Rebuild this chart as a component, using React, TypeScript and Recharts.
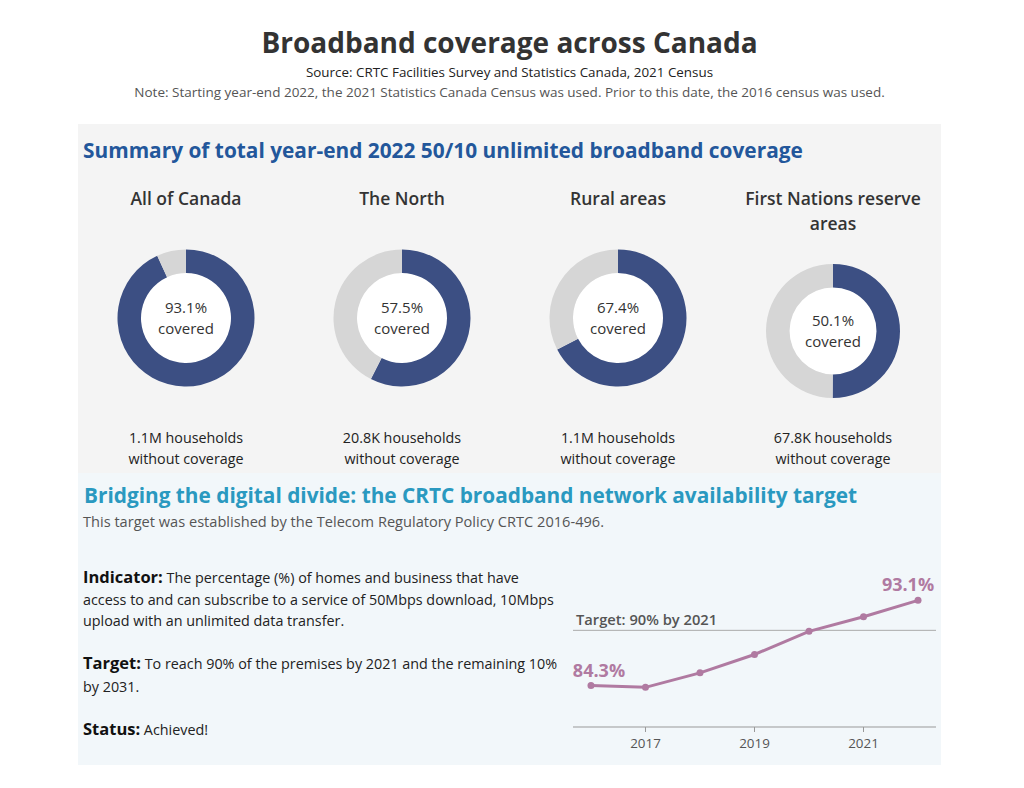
import React from "react";
import { PieChart, Pie, Cell, LineChart, Line, XAxis, YAxis, ReferenceLine, LabelList } from "recharts";

// summary donuts
const regions = ["All of Canada", "The North", "Rural areas", "First Nations reserve areas"];
const coveredPct = [93.1, 57.5, 67.4, 50.1];
const householdsWithout = ["1.1M", "20.8K", "1.1M", "67.8K"];

// availability target line
const years = [2016, 2017, 2018, 2019, 2020, 2021, 2022];
const coverage = [84.3, 84.1, 85.6, 87.5, 89.9, 91.4, 93.1];
const yearTicks = [2017, 2019, 2021];
const targetPct = 90;

const FONT = "'Open Sans', Lato, sans-serif";
const BLUE = "#3c4f83";
const GREY = "#d6d6d6";
const PURPLE = "#b07aa1";

const colX = [186, 402, 618, 833];
const colY = [318, 318, 318, 331];
const outerR = [68.5, 68.5, 68.5, 67];
const innerR = [45, 45, 45, 43.5];

function Donut({ i }: { i: number }) {
  const size = 160;
  const cx = colX[i];
  const cy = colY[i];
  const data = [
    { name: "covered", value: coveredPct[i] },
    { name: "not covered", value: 100 - coveredPct[i] },
  ];
  return (
    <>
      <div style={{ position: "absolute", left: cx - size / 2, top: cy - size / 2 }}>
        <PieChart width={size} height={size} margin={{ top: 0, right: 0, bottom: 0, left: 0 }}>
          <Pie data={[{ value: 1 }]} dataKey="value" cx="50%" cy="50%" innerRadius={0} outerRadius={innerR[i]}
            fill="#ffffff" stroke="none" isAnimationActive={false} />
          <Pie data={data} dataKey="value" cx="50%" cy="50%" startAngle={90} endAngle={-270}
            innerRadius={innerR[i]} outerRadius={outerR[i]} stroke="none" isAnimationActive={false}>
            <Cell fill={BLUE} />
            <Cell fill={GREY} />
          </Pie>
        </PieChart>
      </div>
      <div style={{ position: "absolute", left: cx - 50, top: cy - 21, width: 100, textAlign: "center",
        fontSize: 15, lineHeight: "21px", color: "#333" }}>
        {coveredPct[i].toFixed(1)}%<br />covered
      </div>
      <div style={{ position: "absolute", left: cx - 100, top: 427, width: 200, textAlign: "center",
        fontSize: 14.3, lineHeight: "21px", color: "#222" }}>
        {householdsWithout[i]} households<br />without coverage
      </div>
      <div style={{ position: "absolute", left: cx - 100, top: 186, width: 200, textAlign: "center",
        fontSize: 17.5, fontWeight: 600, lineHeight: "25px", color: "#333" }}>
        {regions[i]}
      </div>
    </>
  );
}

function EndLabel(props: any) {
  const { x, y, index, value } = props;
  if (index !== 0 && index !== years.length - 1) return null;
  const first = index === 0;
  return (
    <text x={first ? x + 8 : x - 10} y={first ? y - 15 : y - 16} textAnchor="middle" dominantBaseline="central"
      fill={PURPLE} fontSize={18} fontWeight={700} fontFamily={FONT}>
      {Number(value).toFixed(1)}%
    </text>
  );
}

function TargetLabel(props: any) {
  const vb = props.viewBox || {};
  return (
    <text x={vb.x + 3} y={vb.y - 11} dominantBaseline="central" fill="#555" fontSize={14.7} fontWeight={600}
      fontFamily={FONT}>
      Target: {targetPct}% by 2021
    </text>
  );
}

export default function App() {
  const lineData = years.map((year, i) => ({ year, value: coverage[i] }));
  return (
    <div style={{ position: "absolute", left: 0, top: 0, width: 1024, height: 788, background: "#fff",
      fontFamily: FONT, overflow: "hidden" }}>
      {/* header */}
      <div style={{ position: "absolute", left: 78, width: 863, top: 25, textAlign: "center", fontSize: 28,
        fontWeight: 700, lineHeight: "34px", color: "#333" }}>
        Broadband coverage across Canada
      </div>
      <div style={{ position: "absolute", left: 78, width: 863, top: 63, textAlign: "center", fontSize: 13.4,
        lineHeight: "18px", color: "#222" }}>
        Source: CRTC Facilities Survey and Statistics Canada, 2021 Census
      </div>
      <div style={{ position: "absolute", left: 78, width: 863, top: 83, textAlign: "center", fontSize: 13.5,
        lineHeight: "18px", color: "#555" }}>
        Note: Starting year-end 2022, the 2021 Statistics Canada Census was used. Prior to this date, the 2016 census was used.
      </div>

      {/* summary panel */}
      <div style={{ position: "absolute", left: 78, top: 124, width: 863, height: 349, background: "#f4f4f4" }} />
      <div style={{ position: "absolute", left: 83, top: 136, fontSize: 20.85, fontWeight: 700, lineHeight: "28px",
        color: "#23579b", whiteSpace: "nowrap" }}>
        Summary of total year-end 2022 50/10 unlimited broadband coverage
      </div>
      {regions.map((_, i) => <Donut key={i} i={i} />)}

      {/* target panel */}
      <div style={{ position: "absolute", left: 78, top: 473, width: 863, height: 292, background: "#f2f7fa" }} />
      <div style={{ position: "absolute", left: 84, top: 481, fontSize: 20.8, fontWeight: 700, lineHeight: "28px",
        color: "#2a99c0", whiteSpace: "nowrap" }}>
        Bridging the digital divide: the CRTC broadband network availability target
      </div>
      <div style={{ position: "absolute", left: 83, top: 511, fontSize: 14.6, lineHeight: "20px", color: "#555",
        whiteSpace: "nowrap" }}>
        This target was established by the Telecom Regulatory Policy CRTC 2016-496.
      </div>
      <div style={{ position: "absolute", left: 83, top: 566, width: 490, fontSize: 14.35, lineHeight: "21.5px",
        color: "#222", whiteSpace: "nowrap" }}>
        <span style={{ fontSize: 16.5, fontWeight: 700, color: "#111" }}>Indicator:</span> The percentage (%) of homes and business that have<br />
        access to and can subscribe to a service of 50Mbps download, 10Mbps<br />
        upload with an unlimited data transfer.
      </div>
      <div style={{ position: "absolute", left: 83, top: 651, width: 490, fontSize: 14.35, lineHeight: "23px",
        color: "#222", whiteSpace: "nowrap" }}>
        <span style={{ fontSize: 16.5, fontWeight: 700, color: "#111" }}>Target:</span> To reach 90% of the premises by 2021 and the remaining 10%<br />
        by 2031.
      </div>
      <div style={{ position: "absolute", left: 83, top: 717, width: 490, fontSize: 14.35, lineHeight: "23px",
        color: "#222" }}>
        <span style={{ fontSize: 16.5, fontWeight: 700, color: "#111" }}>Status:</span> Achieved!
      </div>

      <div style={{ position: "absolute", left: 560, top: 560 }}>
        <LineChart width={400} height={200} data={lineData} margin={{ top: 22, right: 24, left: 13, bottom: 3 }}>
          <XAxis dataKey="year" type="number" domain={[2016 - 0.33, 2022 + 0.33]} ticks={yearTicks}
            allowDataOverflow stroke="#999" tickSize={5} tickMargin={6} height={30}
            tick={{ fill: "#555", fontSize: 13.4, fontFamily: FONT }} />
          <YAxis hide domain={[80, 95]} allowDataOverflow />
          <ReferenceLine y={targetPct} stroke="#aaa" strokeWidth={1} label={<TargetLabel />} />
          <Line dataKey="value" stroke={PURPLE} strokeWidth={3}
            dot={{ r: 3.5, fill: PURPLE, stroke: PURPLE, strokeWidth: 0 }} isAnimationActive={false}>
            <LabelList dataKey="value" content={<EndLabel />} />
          </Line>
        </LineChart>
      </div>
    </div>
  );
}
